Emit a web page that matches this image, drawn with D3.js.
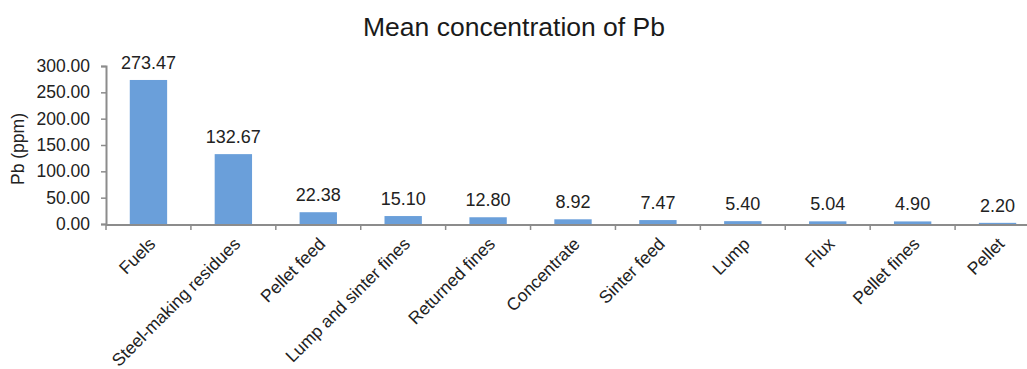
<!DOCTYPE html>
<html><head><meta charset="utf-8">
<script src="https://cdn.jsdelivr.net/npm/d3@7"></script>
<style>body{margin:0;background:#fff;} svg{display:block;font-family:"Liberation Sans",Arial,sans-serif;}</style>
</head><body>
<svg id="chart" width="1027" height="369"></svg>
<script>
const categories = ["Fuels","Steel-making residues","Pellet feed","Lump and sinter fines","Returned fines","Concentrate","Sinter feed","Lump","Flux","Pellet fines","Pellet"];
const values = [273.47,132.67,22.38,15.10,12.80,8.92,7.47,5.40,5.04,4.90,2.20];
const yTicks = [0,50,100,150,200,250,300];
const title = "Mean concentration of Pb";
const yLabel = "Pb (ppm)";

const svg = d3.select("#chart");
const mLeft = 106, mRight = 1040, mTop = 66, mBottom = 224;
const x = d3.scaleBand().domain(categories).range([mLeft, mRight]).paddingInner(0.56).paddingOuter(0.28);
const y = d3.scaleLinear().domain([0,300]).range([mBottom, mTop]);

svg.append("text").attr("x", 514).attr("y", 36).attr("text-anchor","middle")
  .attr("font-size", 26.5).attr("fill","#1a1a1a").text(title);

// y axis
const yAxis = svg.append("g").attr("transform",`translate(${mLeft},0)`)
  .call(d3.axisLeft(y).tickValues(yTicks).tickFormat(d3.format(".2f")).tickSize(5).tickPadding(11));
yAxis.select(".domain").attr("stroke","#8c8c8c").attr("stroke-width",2);
yAxis.selectAll(".tick line").attr("stroke","#8c8c8c").attr("stroke-width",1.5);
yAxis.selectAll(".tick text").attr("font-size",17.5).attr("fill","#222").attr("font-family","Liberation Sans, Arial, sans-serif");

svg.append("text").attr("transform",`translate(24,${(mTop+mBottom)/2+4}) rotate(-90)`)
  .attr("text-anchor","middle").attr("font-size",17.5).attr("fill","#222").text(yLabel);

// bars
svg.selectAll("rect.bar").data(values).join("rect").attr("class","bar")
  .attr("x",(d,i)=>x(categories[i])).attr("width",x.bandwidth())
  .attr("y",d=>y(d)).attr("height",d=>y(0)-y(d)).attr("fill","#6a9fda");

// value labels
svg.selectAll("text.val").data(values).join("text").attr("class","val")
  .attr("x",(d,i)=>x(categories[i])+x.bandwidth()/2).attr("y",d=>y(d)-11)
  .attr("text-anchor","middle").attr("font-size",18).attr("fill","#222")
  .text(d=>d.toFixed(2));

// x axis baseline and separator ticks
svg.append("line").attr("x1",mLeft).attr("x2",1027).attr("y1",mBottom+1).attr("y2",mBottom+1)
  .attr("stroke","#8c8c8c").attr("stroke-width",2);
const step = x.step();
const bounds = categories.map(c=>x(c)-(step-x.bandwidth())/2);
svg.selectAll("line.xt").data(bounds).join("line").attr("class","xt")
  .attr("x1",d=>d).attr("x2",d=>d).attr("y1",mBottom+1).attr("y2",mBottom+6)
  .attr("stroke","#8c8c8c").attr("stroke-width",1.5);

// x labels
svg.selectAll("text.xl").data(categories).join("text").attr("class","xl")
  .attr("transform",c=>`translate(${x(c)+x.bandwidth()/2+8},${mBottom+21}) rotate(-45)`)
  .attr("text-anchor","end").attr("font-size",17.5).attr("fill","#222").text(c=>c);
</script>
</body></html>
